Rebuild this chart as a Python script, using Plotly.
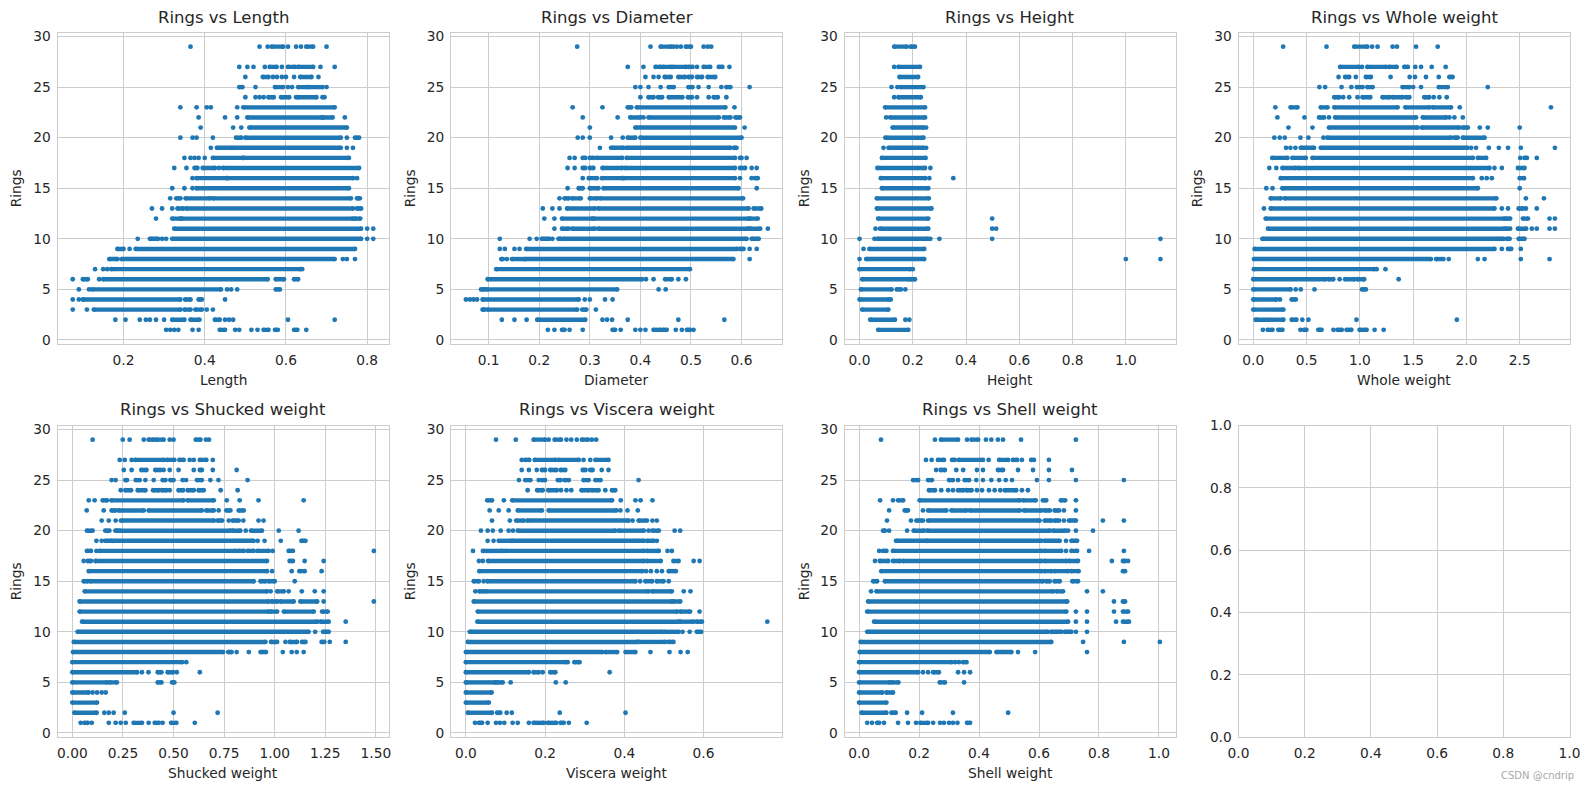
import plotly.graph_objects as go

# Each table: rings -> (continuous stretches of overlapping points, separate points)
length_data = {
29: ([(.565,.593),(.65,.667)], [.365,.535,.555,.605,.625,.637,.70]),
27: ([(.56,.577),(.605,.622),(.63,.667)], [.485,.505,.52,.548,.59,.685,.72]),
26: ([(.543,.557),(.635,.663)], [.50,.568,.578,.59,.60,.62,.68]),
25: ([(.485,.493),(.573,.593),(.63,.65),(.655,.69)], [.525,.605,.615,.70]),
24: ([(.557,.57),(.588,.608),(.63,.675)], [.50,.525,.535,.545,.625,.69,.695]),
23: ([(.495,.72)], [.34,.38,.405,.415,.48]),
22: ([(.505,.69),(.69,.715)], [.385,.45,.48,.745]),
21: ([(.51,.75)], [.39,.47,.49]),
20: ([(.477,.49),(.50,.735),(.77,.78)], [.34,.37,.38,.42,.75]),
19: ([(.43,.465),(.47,.735)], [.415,.75,.765]),
18: ([(.42,.495),(.495,.755)], [.35,.365,.375,.385,.40]),
17: ([(.375,.382),(.395,.425),(.445,.78)], [.325,.355,.435]),
16: ([(.38,.455),(.455,.765)], [.37,.775]),
15: ([(.38,.755)], [.32,.35,.37]),
14: ([(.33,.34),(.353,.413),(.42,.76),(.775,.782)], [.315]),
13: ([(.333,.347),(.355,.765),(.775,.785)], [.27,.295,.32]),
12: ([(.32,.34),(.343,.765),(.77,.783)], [.28]),
11: ([(.325,.785)], [.80,.815]),
10: ([(.265,.285),(.32,.785)], [.235,.295,.305,.80,.815]),
9: ([(.185,.20),(.23,.77)], [.215]),
8: ([(.165,.185),(.195,.72)], [.74,.75,.77]),
7: ([(.17,.635)], [.13,.15,.16,.64]),
6: ([(.10,.112),(.15,.555),(.575,.595),(.62,.63)], [.075,.14]),
5: ([(.123,.44),(.575,.585)], [.09,.115,.455,.465,.48]),
4: ([(.10,.34),(.352,.365),(.385,.393)], [.075,.09,.45]),
3: ([(.127,.34),(.35,.365),(.377,.393)], [.075,.11,.405,.42]),
2: ([(.32,.35),(.365,.387),(.425,.437)], [.18,.205,.24,.255,.265,.28,.30,.45,.46,.47,.605,.72]),
1: ([(.437,.45),(.545,.557),(.573,.58),(.62,.628)], [.305,.315,.325,.335,.37,.385,.475,.485,.515,.53,.65]),
}
diameter_data = {
29: ([(.44,.46),(.49,.50)], [.275,.42,.465,.472,.48,.525,.533,.54]),
27: ([(.43,.44),(.445,.46),(.465,.49),(.495,.503),(.525,.538),(.555,.562)], [.375,.406,.512,.576]),
26: ([(.448,.46),(.475,.488),(.495,.502),(.512,.522),(.533,.548)], [.41,.426,.436]),
25: ([(.456,.466),(.495,.503),(.57,.578)], [.39,.40,.416,.44,.515,.535,.56,.616]),
24: ([(.416,.426),(.435,.443),(.456,.483),(.494,.502),(.545,.553)], [.40,.512,.535,.57]),
23: ([(.375,.382),(.393,.568)], [.266,.325,.586]),
22: ([(.38,.40),(.416,.555),(.565,.578),(.588,.597)], [.286,.355,.406]),
21: ([(.39,.587)], [.30,.606]),
20: ([(.375,.39),(.40,.60)], [.276,.286,.30,.342,.365]),
19: ([(.342,.367),(.373,.578),(.585,.59)], [.32]),
18: ([(.286,.291),(.30,.307),(.314,.364),(.373,.587),(.597,.60)], [.26,.27,.61]),
17: ([(.286,.291),(.30,.307),(.325,.364),(.37,.587),(.597,.607)], [.256,.27,.62,.63]),
16: ([(.298,.314),(.324,.364),(.367,.587),(.627,.632)], [.286,.597,.62]),
15: ([(.278,.286),(.30,.317),(.327,.594)], [.256,.63]),
14: ([(.25,.258),(.265,.282),(.30,.314),(.32,.603)], [.24]),
13: ([(.255,.31),(.317,.614),(.624,.639)], [.207,.226,.24]),
12: ([(.245,.305),(.308,.614),(.617,.632)], [.21,.23]),
11: ([(.245,.258),(.265,.31),(.317,.614),(.617,.637)], [.23,.652]),
10: ([(.205,.22),(.238,.243),(.248,.61),(.62,.634)], [.122,.181,.195,.226]),
9: ([(.174,.591),(.597,.604)], [.122,.132,.151,.161,.616,.63]),
8: ([(.125,.128),(.146,.17),(.172,.584)], [.136,.616]),
7: ([(.115,.498)], []),
6: ([(.098,.403),(.449,.462)], [.411,.426,.475,.49]),
5: ([(.085,.092),(.097,.354)], [.436,.45]),
4: ([(.088,.278)], [.055,.063,.07,.077,.29,.30,.33,.345]),
3: ([(.088,.092),(.098,.275),(.285,.293)], [.312]),
2: ([(.196,.291)], [.126,.151,.175,.325,.334,.344,.375,.475,.566]),
1: ([(.245,.25),(.345,.35),(.426,.44),(.445,.452),(.492,.498)], [.217,.23,.26,.286,.361,.39,.40,.41,.47,.482,.505]),
}
height_data = {
29: ([(.13,.177),(.192,.208)], []),
27: ([(.146,.227)], [.13]),
26: ([(.15,.22)], []),
25: ([(.155,.24)], [.12,.142]),
24: ([(.146,.23)], [.13]),
23: ([(.096,.246)], []),
22: ([(.115,.246)], [.10]),
21: ([(.124,.24)], [.25]),
20: ([(.097,.24)], []),
19: ([(.109,.24)], [.09,.25]),
18: ([(.084,.248)], []),
17: ([(.067,.246)], [.266]),
16: ([(.08,.246)], [.262,.352]),
15: ([(.084,.258)], []),
14: ([(.065,.26)], []),
13: ([(.065,.27)], []),
12: ([(.07,.258)], [.498]),
11: ([(.077,.258)], [.06,.498,.513]),
10: ([(.067,.258)], [0,.056,.266,.30,.498,1.13]),
9: ([(.037,.243)], [.015]),
8: ([(.025,.243)], [0,1.0,1.13]),
7: ([(0,.19)], [.2]),
6: ([(.01,.184),(.192,.208)], []),
5: ([(.005,.12),(.14,.155)], [.172]),
4: ([(0,.11)], [.117]),
3: ([(.01,.108)], []),
2: ([(.04,.133)], [.172,.187]),
1: ([(.07,.183)], []),
}
whole_data = {
29: ([(.947,1.07)], [.28,.687,1.115,1.166,1.307,1.348,1.527,1.73]),
27: ([(.815,.99),(1.07,1.245),(1.275,1.345),(1.417,1.45)], [1.02,1.52,1.574,1.674,1.805]),
26: ([(.862,.90),(1.056,1.103),(1.84,1.87)], [.80,.962,1.288,1.467,1.517,1.62,1.74]),
25: ([(.972,1.025),(1.07,1.12),(1.40,1.464),(1.74,1.825)], [.62,.674,.828,.92,1.50,1.574,2.2]),
24: ([(.76,.805),(1.025,1.097),(1.213,1.275),(1.307,1.40),(1.433,1.464),(1.605,1.65)], [.843,.90,.978,1.693,1.746,1.815]),
23: ([(.35,.414),(.633,.696),(.76,1.354),(1.426,1.652),(1.683,1.855)], [.207,1.937,2.793]),
22: ([(.617,.664),(.768,1.527),(1.59,1.81)], [.226,.48,.71,1.84,1.887,1.966]),
21: ([(.71,1.542),(1.58,1.934),(1.966,2.013)], [.33,.555,2.125,2.2,2.5]),
20: ([(.695,1.855),(1.887,1.918),(1.966,2.17)], [.197,.248,.295,.442,.517,.658]),
19: ([(.445,.57),(.633,2.01)], [.307,.348,.395,2.044,2.09,2.21,2.304,2.39,2.51,2.83]),
18: ([(.178,.32),(.367,.492),(.555,2.06),(2.107,2.185),(2.545,2.567)], [2.505,2.66]),
17: ([(.273,.398),(.423,2.216),(2.483,2.545)], [.15,.216,2.263,2.332]),
16: ([(.257,2.06),(2.5,2.54)], [2.144,2.19,2.238]),
15: ([(.273,2.107)], [.122,.18,2.5]),
14: ([(.163,.257),(.295,2.28)], [2.558,2.727]),
13: ([(.163,2.263),(2.49,2.53)], [.10,2.332,2.39,2.558,2.66]),
12: ([(.116,2.357),(2.373,2.41),(2.53,2.577)], [2.78,2.83]),
11: ([(.138,2.357),(2.373,2.41),(2.483,2.56)], [2.614,2.66,2.78,2.83]),
10: ([(.085,2.295),(2.31,2.35),(2.38,2.405),(2.49,2.545)], []),
9: ([(.012,2.263),(2.39,2.42)], [2.332,2.51]),
8: ([(.006,1.667),(1.715,1.784)], [1.834,2.107,2.17,2.51,2.78]),
7: ([(.006,1.135)], [1.157,1.24]),
6: ([(0,.674),(.705,.75),(.862,.947),(.978,1.04)], [.81,1.364]),
5: ([(0,.35),(1.02,1.056)], [.398,.445,.574]),
4: ([(0,.216),(.36,.398)], [.25]),
3: ([(0,.282)], []),
2: ([(.022,.282),(.36,.404)], [.46,.517,.968,1.91]),
1: ([(.135,.18),(.235,.273),(.476,.498),(.61,.64),(.79,.83),(.875,.92),(.997,1.063)], [.09,.442,.752,1.138,1.223]),
}
shucked_data = {
29: ([(.377,.402),(.415,.451),(.61,.633)], [.10,.249,.283,.353,.481,.50,.66,.675]),
27: ([(.311,.451),(.468,.504),(.529,.55),(.63,.662)], [.234,.259,.293,.58,.60,.694]),
26: ([(.341,.366),(.41,.435),(.63,.64)], [.254,.293,.451,.481,.525,.60,.694,.812]),
25: ([(.262,.27),(.313,.333),(.446,.46),(.484,.50),(.616,.64)], [.194,.214,.361,.402,.545,.562,.682,.722,.866]),
24: ([(.262,.29),(.323,.361),(.399,.427),(.443,.465),(.525,.547),(.57,.60),(.624,.649)], [.239,.481,.733,.817]),
23: ([(.15,.171),(.193,.55),(.57,.699)], [.081,.11,.763,.827,.92,1.143]),
22: ([(.194,.213),(.229,.353),(.377,.64),(.662,.699),(.761,.781),(.822,.847)], [.071,.155,.723]),
21: ([(.24,.70),(.718,.74),(.792,.822)], [.145,.18,.214,.773,.845,.92,.945]),
20: ([(.072,.10),(.163,.183),(.213,.224),(.234,.78),(.792,.83),(.883,.937)], [.857,1.02,1.118]),
19: ([(.163,.196),(.204,.896),(1.132,1.152)], [.119,.145,.916,.95,1.03]),
18: ([(.072,.092),(.135,.806),(.822,.847),(.867,.896),(.916,.97),(1.069,1.09)], [.119,.99,1.49]),
17: ([(.076,.092),(.114,.962),(1.074,1.09)], [.056,1.148,1.242]),
16: ([(.081,.962),(1.122,1.148)], [.987,1.084,1.232]),
15: ([(.056,.076),(.089,.896),(.93,.954),(.97,1.0)], [1.099]),
14: ([(.061,.962),(1.012,1.045)], [.98,1.069,1.134,1.198,1.242]),
13: ([(.036,.97),(.985,1.012),(1.028,1.094),(1.127,1.21)], [1.242,1.49]),
12: ([(.036,.97),(.98,1.012),(1.045,1.193),(1.234,1.262)], []),
11: ([(.048,1.21),(1.226,1.267)], [1.351]),
10: ([(.026,1.036),(1.045,1.168),(1.239,1.267)], [1.2]),
9: ([(.007,.954),(.982,1.012),(1.074,1.11),(1.135,1.152),(1.232,1.245)], [1.053,1.272,1.351]),
8: ([(.003,.745),(.77,.787),(.93,.957)], [.812,.872,1.04,1.084,1.109,1.143]),
7: ([(0,.542)], [.563]),
6: ([(0,.32),(.422,.44),(.471,.497)], [.344,.376,.516,.63]),
5: ([(0,.171),(.185,.22),(.422,.44),(.493,.504)], []),
4: ([(0,.08)], [.10,.122,.145,.165]),
3: ([(0,.122)], []),
2: ([(.01,.12)], [.158,.18,.204,.259,.50,.718]),
1: ([(.06,.076),(.303,.344),(.407,.427),(.488,.514)], [.041,.096,.18,.214,.239,.264,.377,.446,.605]),
}
viscera_data = {
29: ([(.171,.20),(.224,.24),(.293,.308)], [.076,.126,.209,.254,.266,.28,.318,.329]),
27: ([(.15,.16),(.174,.226),(.234,.285),(.327,.36)], [.141,.297,.314]),
26: ([(.192,.20),(.213,.228),(.239,.251),(.295,.302),(.314,.32)], [.141,.159,.179,.343,.36]),
25: ([(.15,.163),(.192,.20),(.232,.239),(.249,.26),(.297,.31),(.327,.34)], [.134,.184,.436]),
24: ([(.18,.194),(.208,.23),(.292,.31),(.318,.335),(.369,.377)], [.156,.24,.254,.266,.352]),
23: ([(.054,.066),(.117,.369)], [.096,.391,.428,.441,.471]),
22: ([(.131,.192),(.209,.38)], [.06,.083,.108,.39,.408,.434]),
21: ([(.127,.146),(.155,.411),(.436,.457)], [.066,.111,.421,.471,.482]),
20: ([(.131,.377),(.386,.449),(.471,.487)], [.038,.055,.068,.088,.108,.119,.461,.527,.541]),
19: ([(.083,.113),(.117,.449),(.457,.474)], [.055,.07,.482]),
18: ([(.043,.092),(.10,.449),(.457,.487)], [.018,.509,.52]),
17: ([(.056,.449),(.457,.492),(.524,.537)], [.033,.043,.575,.59]),
16: ([(.034,.445),(.512,.53)], [.455,.467,.482,.495]),
15: ([(.02,.033),(.054,.428),(.453,.47),(.482,.499)], [.045,.44,.512]),
14: ([(.034,.045),(.051,.461),(.47,.52)], [.024,.55,.567]),
13: ([(.02,.52),(.524,.541)], []),
12: ([(.03,.533),(.541,.566)], [.59]),
11: ([(.029,.537),(.541,.575),(.583,.596)], [.761]),
10: ([(.01,.495),(.5,.537),(.583,.594)], [.547,.565]),
9: ([(.005,.432),(.436,.503),(.512,.524)], []),
8: ([(0,.344),(.352,.382),(.403,.428)], [.466,.514,.542,.56]),
7: ([(0,.251),(.274,.287)], [.257]),
6: ([(0,.159),(.171,.184),(.213,.226)], [.194,.363]),
5: ([(0,.075),(.079,.093)], [.113,.227,.252]),
4: ([(0,.065)], []),
3: ([(0,.058)], []),
2: ([(.005,.066),(.079,.087)], [.103,.116,.237,.403]),
1: ([(.033,.041),(.171,.197),(.207,.228),(.239,.247)], [.023,.055,.076,.086,.097,.118,.131,.159,.26,.305]),
}
shell_data = {
29: ([(.273,.33),(.375,.397)], [.073,.253,.36,.423,.441,.463,.48,.54,.723]),
27: ([(.263,.283),(.31,.319),(.333,.413),(.467,.497),(.513,.527),(.574,.583)], [.223,.242,.432,.543,.633]),
26: ([(.272,.286),(.463,.48)], [.257,.324,.347,.393,.413,.53,.58,.633,.71]),
25: ([(.18,.197),(.23,.243),(.30,.313),(.352,.367)], [.33,.391,.413,.441,.467,.489,.51,.593,.633,.723,.883]),
24: ([(.233,.253),(.33,.347),(.358,.375),(.486,.524)], [.274,.297,.313,.393,.41,.433,.452,.471,.543,.563]),
23: ([(.13,.147),(.202,.536),(.547,.589),(.613,.624),(.673,.687)], [.07,.113,.723]),
22: ([(.152,.163),(.23,.291),(.308,.358),(.369,.536),(.55,.608),(.619,.636),(.652,.667)], [.10,.213,.683,.723]),
21: ([(.191,.213),(.23,.602),(.619,.641),(.652,.667),(.70,.723)], [.093,.173,.683,.813,.883]),
20: ([(.08,.086),(.182,.216),(.227,.636),(.647,.687)], [.10,.16,.697,.723,.78]),
19: ([(.123,.224),(.227,.608),(.619,.669),(.708,.727)], [.69]),
18: ([(.08,.091),(.113,.608),(.619,.674),(.708,.727)], [.067,.69,.767,.883]),
17: ([(.069,.097),(.113,.136),(.147,.608),(.619,.691),(.70,.73),(.88,.887)], [.053,.843,.897]),
16: ([(.074,.608),(.619,.641),(.652,.697),(.708,.732),(.88,.887)], []),
15: ([(.047,.06),(.086,.613),(.624,.636),(.652,.669),(.711,.73)], []),
14: ([(.058,.647),(.658,.68)], [.04,.76,.813]),
13: ([(.03,.694),(.88,.887)], [.85]),
12: ([(.027,.691),(.88,.897)], [.723,.76,.85]),
11: ([(.05,.697),(.88,.90)], [.723,.76,.857]),
10: ([(.027,.63),(.641,.674),(.686,.708)], [.723,.76]),
9: ([(.005,.641)], [.747,.883,1.003]),
8: ([(.002,.436),(.458,.508)], [.53,.587,.76]),
7: ([(0,.308),(.347,.358)], [.32,.333]),
6: ([(0,.197),(.247,.266)], [.213,.23,.33,.35,.37]),
5: ([(0,.102),(.11,.131),(.269,.286)], [.35]),
4: ([(0,.077),(.091,.113)], []),
3: ([(0,.091)], []),
2: ([(.008,.091),(.108,.122)], [.16,.21,.313,.497]),
1: ([(.06,.067),(.204,.23),(.36,.37)], [.027,.043,.083,.13,.163,.19,.247,.27,.283,.30,.313,.328]),
}

W, H = 1589, 790
BLUE = "#1f77b4"
GRID = "#cccccc"
INK = "#262626"
FONT = "DejaVu Sans"
TICK = 13.75
TITLE = 16.5

# name, table, x range, tick step, tick format, left px, right px, row, y-title px
panels = [
    ("Length", length_data, (.0375, .8525), .2, ".1f", 57.5, 388.5, 0, 16),
    ("Diameter", diameter_data, (.0255, .680), .1, ".1f", 451, 782, 0, 410),
    ("Height", height_data, (-.0565, 1.1865), .2, ".1f", 844.5, 1175.5, 0, 804),
    ("Whole weight", whole_data, (-.139, 2.967), .5, ".1f", 1238.5, 1569.5, 0, 1197),
    ("Shucked weight", shucked_data, (-.0734, 1.5624), .25, ".2f", 57.5, 388.5, 1, 16),
    ("Viscera weight", viscera_data, (-.0375, .798), .2, ".1f", 451, 782, 1, 410),
    ("Shell weight", shell_data, (-.0487, 1.0552), .2, ".1f", 844.5, 1175.5, 1, 804),
]
rows = [dict(top=32.5, bottom=344, title=17.5, xlab=380),
        dict(top=425.5, bottom=737, title=409, xlab=772.5)]

fig = go.Figure()
annotations = []


def note(text, px, py, size=TICK, angle=0, color=INK):
    annotations.append(dict(text=text, x=px / W, y=1 - py / H, xref="paper", yref="paper",
                            xanchor="center", yanchor="middle", showarrow=False,
                            textangle=angle, font=dict(family=FONT, size=size, color=color)))


def axis_style(**kw):
    return dict(showgrid=True, gridcolor=GRID, gridwidth=1, zeroline=False, showline=True,
                linecolor=GRID, linewidth=1, mirror=True, ticks="outside", ticklen=3,
                tickcolor="rgba(0,0,0,0)", tickfont=dict(family=FONT, size=TICK, color=INK),
                layer="below traces", automargin=False, **kw)


layout = {}
for i, (name, table, xr, step, fmt, left, right, row, ytitle) in enumerate(panels, start=1):
    r = rows[row]
    xs, ys = [], []
    for ring, (spans, points) in table.items():
        for a, b in spans:
            xs += [a, b, None]
            ys += [ring, ring, None]
        for p in points:
            xs += [p, None]
            ys += [ring, None]
    fig.add_trace(go.Scatter(x=xs, y=ys, mode="lines+markers", connectgaps=False,
                             line=dict(color=BLUE, width=4.4),
                             marker=dict(color=BLUE, size=4.8, line=dict(width=0)),
                             xaxis=f"x{i}", yaxis=f"y{i}", showlegend=False, name=name))
    layout[f"xaxis{i}"] = axis_style(domain=[left / W, right / W], range=list(xr), dtick=step,
                                     tick0=0, tickformat=fmt, anchor=f"y{i}")
    layout[f"yaxis{i}"] = axis_style(domain=[1 - r["bottom"] / H, 1 - r["top"] / H],
                                     range=[-.4, 30.4], dtick=5, tick0=0, tickformat="d",
                                     anchor=f"x{i}")
    cx = (left + right) / 2
    note(f"Rings vs {name}", cx, r["title"], size=TITLE)
    note(name, cx, r["xlab"])
    note("Rings", ytitle, (r["top"] + r["bottom"]) / 2, angle=-90)

# Empty eighth panel
layout["xaxis8"] = axis_style(domain=[1238.5 / W, 1569.5 / W], range=[0, 1], dtick=.2, tick0=0,
                              tickformat=".1f", anchor="y8")
layout["yaxis8"] = axis_style(domain=[1 - 737 / H, 1 - 425.5 / H], range=[0, 1], dtick=.2, tick0=0,
                              tickformat=".1f", anchor="x8")
fig.add_trace(go.Scatter(x=[None], y=[None], xaxis="x8", yaxis="y8", showlegend=False))

note("CSDN @cndrip", 1537, 775, size=10, color="#aaaaaa")

fig.update_layout(width=W, height=H, margin=dict(l=0, r=0, t=0, b=0), autosize=False,
                  paper_bgcolor="white", plot_bgcolor="white", showlegend=False,
                  annotations=annotations, **layout)
fig.write_html("out.html", config=dict(displayModeBar=False),
               post_script="document.body.style.margin='0';document.documentElement.style.overflow='hidden';")
